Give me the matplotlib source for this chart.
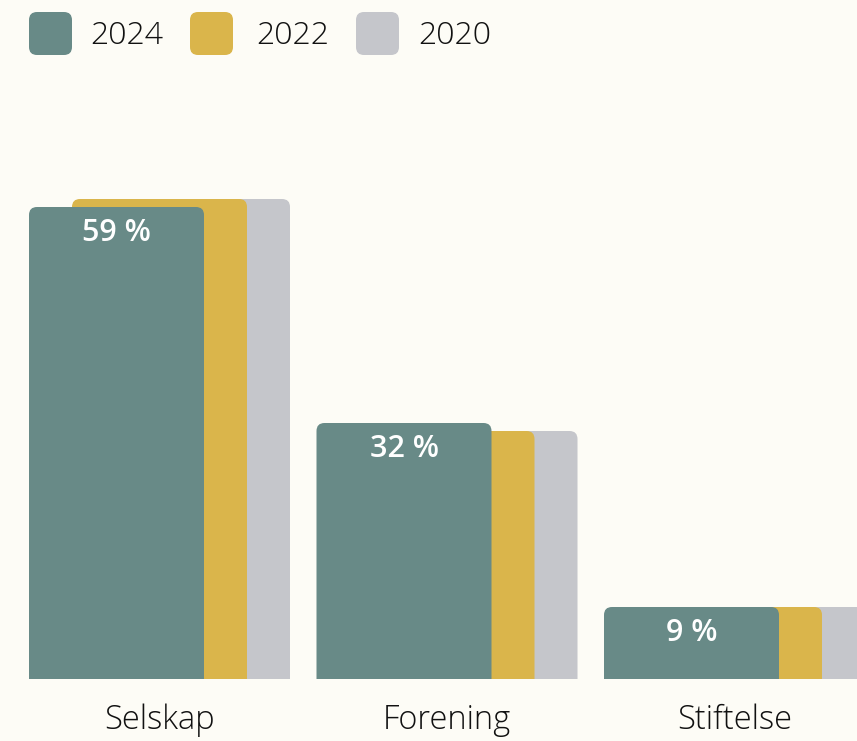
import matplotlib.pyplot as plt
from matplotlib.patches import FancyBboxPatch

# data
categories = ['Selskap', 'Forening', 'Stiftelse']
years = ['2024', '2022', '2020']
values_2024 = [59, 32, 9]
values_2022 = [60, 31, 9]
values_2020 = [60, 31, 9]
colors = {'2024': '#688a87', '2022': '#dab54b', '2020': '#c5c6cb'}
bg = '#fdfcf6'

W, H = 857, 741
fig = plt.figure(figsize=(W / 100, H / 100), dpi=100, facecolor=bg)

# axes: baseline at y=679 px, 8 px per percent, group spacing ~287 px
base_px = 679
px_per_pct = 8.0
group_px = 287.5
ax = fig.add_axes([0, (H - base_px) / H, 1, base_px / H])
ax.set_facecolor(bg)
ax.set_xlim(-29 / group_px, (W - 29) / group_px)
ax.set_ylim(0, base_px / px_per_pct)
ax.axis('off')

bar_w = 175 / group_px
offset = 43 / group_px
radius = 8 / group_px
aspect = group_px / px_per_pct

series = [('2020', values_2020, 2), ('2022', values_2022, 1), ('2024', values_2024, 0)]
for z, (yr, vals, k) in enumerate(series):
    for i, v in enumerate(vals):
        x0 = i + k * offset
        box = FancyBboxPatch((x0, -5), bar_w, v + 5,
                             boxstyle='round,pad=0,rounding_size=%f' % radius,
                             mutation_aspect=aspect,
                             fc=colors[yr], ec='none', zorder=z + 1)
        ax.add_patch(box)

# value labels on the 2024 bars
for i, v in enumerate(values_2024):
    ax.text(i + bar_w / 2, v - 26 / px_per_pct, '%d %%' % v,
            ha='center', va='center', color='white', fontsize=22,
            family='Open Sans', fontweight='semibold', zorder=10)

# category labels under each group
for i, c in enumerate(categories):
    cx = i + (bar_w + 2 * offset) / 2
    ax.text(cx, -41 / px_per_pct, c, ha='center', va='center',
            fontsize=23.5, family='Open Sans', fontweight='light',
            color='#111111', clip_on=False)

# legend at top left
leg_x = [29, 190, 356]
txt_x = [90, 256, 418]
for yr, lx, tx in zip(years, leg_x, txt_x):
    sq = FancyBboxPatch((lx, H - 55), 43, 43,
                        boxstyle='round,pad=0,rounding_size=8',
                        fc=colors[yr], ec='none', transform=None)
    fig.patches.append(sq)
    fig.text(tx / W, 1 - 36 / H, yr, ha='left', va='center', fontsize=23,
             family='Open Sans', fontweight='light', color='#111111')

fig.savefig('out.png', dpi=100, facecolor=bg)
